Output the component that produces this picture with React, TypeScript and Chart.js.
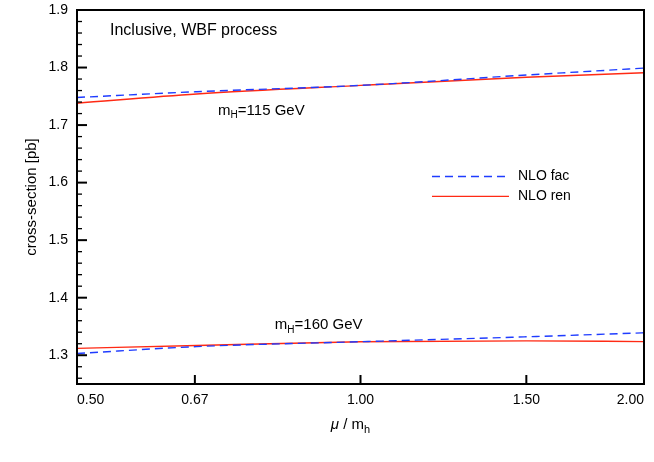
import { useEffect, useRef } from 'react';
import { Chart, registerables } from 'chart.js';

Chart.register(...registerables);

// scale factor mu / m_h and cross-sections [pb]
const mu = [0.5, 0.67, 1.0, 1.5, 2.0];
const fac115 = [1.748, 1.758, 1.769, 1.787, 1.799];
const ren115 = [1.738, 1.754, 1.769, 1.783, 1.791];
const fac160 = [1.303, 1.315, 1.3235, 1.332, 1.339];
const ren160 = [1.312, 1.317, 1.3235, 1.325, 1.3237];

const xTicks = [0.5, 0.667, 1.0, 1.5, 2.0];
const xTickLabels = ['0.50', '0.67', '1.00', '1.50', '2.00'];
const yMajorTicks = [1.3, 1.4, 1.5, 1.6, 1.7, 1.8, 1.9];
const yTickLabels = ['1.3', '1.4', '1.5', '1.6', '1.7', '1.8', '1.9'];
const yMinorStep = 0.02;

const seriesNames = ['NLO fac', 'NLO ren'];
const plotTitle = 'Inclusive, WBF process';
// mass labels: [mu, cross-section, mass]
const massLabels: [number, number, string][] = [
  [0.706, 1.725, '115'],
  [0.811, 1.352, '160'],
];

const BLUE = '#1f3cff';
const RED = '#ff2a14';
const FONT = '"Liberation Sans", Arial, Helvetica, sans-serif';
const DASH = [8, 5];

const pts = (ys: number[]) => mu.map((m, i) => ({ x: m, y: ys[i] }));

function drawMass(ctx: CanvasRenderingContext2D, x: number, y: number, mass: string) {
  ctx.font = `15px ${FONT}`;
  ctx.fillText('m', x, y);
  let w = ctx.measureText('m').width;
  ctx.font = `10px ${FONT}`;
  ctx.fillText('H', x + w, y + 5);
  w += ctx.measureText('H').width;
  ctx.font = `15px ${FONT}`;
  ctx.fillText(`=${mass} GeV`, x + w, y);
}

const framePlugin = {
  id: 'frame',
  afterDatasetsDraw(chart: Chart) {
    const { ctx, chartArea: a } = chart;
    const xs: any = chart.scales.x;
    const ys: any = chart.scales.y;
    ctx.save();
    ctx.strokeStyle = '#000';
    ctx.fillStyle = '#000';

    // inward ticks
    ys.ticks.forEach((t: any) => {
      const y = ys.getPixelForValue(t.value);
      const major = yMajorTicks.some((v) => Math.abs(v - t.value) < 1e-6);
      ctx.lineWidth = major ? 2 : 1.3;
      ctx.beginPath();
      ctx.moveTo(a.left, y);
      ctx.lineTo(a.left + (major ? 10 : 5), y);
      ctx.stroke();
    });
    xTicks.slice(1, -1).forEach((v) => {
      const x = xs.getPixelForValue(v);
      ctx.lineWidth = 2;
      ctx.beginPath();
      ctx.moveTo(x, a.bottom);
      ctx.lineTo(x, a.bottom - 9);
      ctx.stroke();
    });

    // frame
    ctx.lineWidth = 2;
    ctx.strokeRect(a.left, a.top, a.right - a.left, a.bottom - a.top);

    // texts inside the plot
    ctx.textBaseline = 'middle';
    ctx.textAlign = 'left';
    ctx.font = `16px ${FONT}`;
    ctx.fillText(plotTitle, xs.getPixelForValue(0.542), ys.getPixelForValue(1.864));
    massLabels.forEach(([m, v, mass]) => {
      drawMass(ctx, xs.getPixelForValue(m), ys.getPixelForValue(v), mass);
    });

    // legend
    const lx = xs.getPixelForValue(1.191);
    [[1.6106, BLUE, true], [1.576, RED, false]].forEach(([v, c, dashed], i) => {
      const y = ys.getPixelForValue(v as number);
      ctx.strokeStyle = c as string;
      ctx.lineWidth = 1.4;
      ctx.setLineDash(dashed ? DASH : []);
      ctx.beginPath();
      ctx.moveTo(lx, y);
      ctx.lineTo(lx + 77, y);
      ctx.stroke();
      ctx.setLineDash([]);
      ctx.font = `14px ${FONT}`;
      ctx.fillText(seriesNames[i], lx + 86, y);
    });

    // x title: mu / m_h
    ctx.font = `italic 15px ${FONT}`;
    const wMu = ctx.measureText('\u03bc').width;
    ctx.font = `15px ${FONT}`;
    const wMid = ctx.measureText(' / m').width;
    ctx.font = `11px ${FONT}`;
    const wH = ctx.measureText('h').width;
    let tx = (a.left + a.right) / 2 - 10 - (wMu + wMid + wH) / 2;
    const ty = 425;
    ctx.font = `italic 15px ${FONT}`;
    ctx.fillText('\u03bc', tx, ty);
    tx += wMu;
    ctx.font = `15px ${FONT}`;
    ctx.fillText(' / m', tx, ty);
    tx += wMid;
    ctx.font = `11px ${FONT}`;
    ctx.fillText('h', tx, ty + 5);

    // y title
    ctx.translate(32, (a.top + a.bottom) / 2);
    ctx.rotate(-Math.PI / 2);
    ctx.textAlign = 'center';
    ctx.font = `15px ${FONT}`;
    ctx.fillText('cross-section [pb]', 0, 0);
    ctx.restore();
  },
};

function CrossSectionChart() {
  const canvasRef = useRef<HTMLCanvasElement>(null);
  const chartRef = useRef<Chart | null>(null);

  useEffect(() => {
    if (!canvasRef.current) return;
    const ctx = canvasRef.current.getContext('2d');
    if (!ctx) return;

    chartRef.current?.destroy();
    chartRef.current = new Chart(ctx, {
      type: 'line',
      data: {
        datasets: [
          { label: seriesNames[0], data: pts(fac115), borderColor: BLUE, borderDash: DASH },
          { label: seriesNames[1], data: pts(ren115), borderColor: RED },
          { label: seriesNames[0], data: pts(fac160), borderColor: BLUE, borderDash: DASH },
          { label: seriesNames[1], data: pts(ren160), borderColor: RED },
        ].map((d) => ({ ...d, borderWidth: 1.4, pointRadius: 0, fill: false, cubicInterpolationMode: 'monotone' as const })),
      },
      options: {
        responsive: false,
        animation: false,
        layout: { padding: { top: 10, right: 10, left: 0, bottom: 0 } },
        plugins: { legend: { display: false }, tooltip: { enabled: false } },
        scales: {
          x: {
            type: 'logarithmic',
            min: 0.5,
            max: 2.0,
            grid: { display: false, drawTicks: false },
            border: { display: false },
            afterBuildTicks: (s: any) => { s.ticks = xTicks.map((v) => ({ value: v })); },
            afterFit: (s: any) => { s.height = 78; s.paddingLeft = 0; s.paddingRight = 0; },
            ticks: {
              align: 'inner',
              autoSkip: false,
              maxRotation: 0,
              padding: 8,
              color: '#000',
              font: { family: FONT, size: 14 },
              callback: (_v: any, i: number) => xTickLabels[i],
            },
          },
          y: {
            min: 1.25,
            max: 1.9,
            grid: { display: false, drawTicks: false },
            border: { display: false },
            afterBuildTicks: (s: any) => {
              const t = [];
              for (let v = 1.26; v <= 1.9 + 1e-9; v += yMinorStep) t.push({ value: Math.round(v * 100) / 100 });
              s.ticks = t;
            },
            afterFit: (s: any) => { s.width = 77; s.paddingTop = 0; s.paddingBottom = 0; },
            ticks: {
              autoSkip: false,
              padding: 9,
              color: '#000',
              font: { family: FONT, size: 14 },
              callback: (v: any) => {
                const i = yMajorTicks.findIndex((m) => Math.abs(m - v) < 1e-6);
                return i >= 0 ? yTickLabels[i] : '';
              },
            },
          },
        },
      },
      plugins: [framePlugin],
    });

    return () => { chartRef.current?.destroy(); };
  }, []);

  return <canvas ref={canvasRef} width={654} height={462} />;
}

export default function App() {
  useEffect(() => { document.body.style.margin = '0'; }, []);
  return (
    <div style={{ width: 654, height: 462, background: '#fff' }}>
      <CrossSectionChart />
    </div>
  );
}
